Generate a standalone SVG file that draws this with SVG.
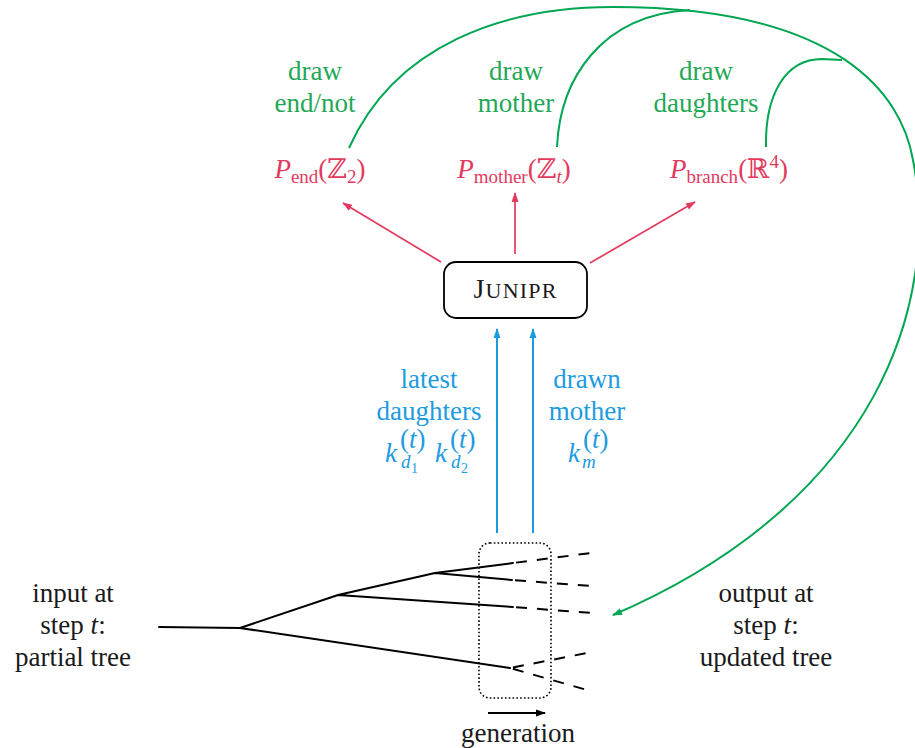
<svg xmlns="http://www.w3.org/2000/svg" width="915" height="748" viewBox="0 0 915 748">
<style>
text{font-family:"Liberation Serif","DejaVu Serif",serif;font-size:27px;}
.c{text-anchor:middle;}
.g{fill:#1fa855;}
.r{fill:#e23a5e;}
.b{fill:#219be0;}
.k{fill:#1a1a1a;}
.i{font-style:italic;}
.s{font-size:19px;}
.ss{font-size:14px;}
.gl{stroke:#00a651;stroke-width:2;fill:none;}
.rl{stroke:#e23a5e;stroke-width:1.7;fill:none;}
.bl{stroke:#1a9be0;stroke-width:2;fill:none;}
.tl{stroke:#000;stroke-width:2;fill:none;stroke-linecap:round;}
.dl{stroke:#000;stroke-width:2;fill:none;stroke-dasharray:11 10;stroke-dashoffset:18;}
</style>
<defs>
<marker id="ag" markerUnits="userSpaceOnUse" markerWidth="10" markerHeight="8" refX="9" refY="4" orient="auto"><path d="M0,0.5 L10,4 L0,7.5 Z" fill="#00a651"/></marker>
<marker id="ar" markerUnits="userSpaceOnUse" markerWidth="10" markerHeight="8" refX="9" refY="4" orient="auto"><path d="M0,0.5 L10,4 L0,7.5 Z" fill="#e23a5e"/></marker>
<marker id="ab" markerUnits="userSpaceOnUse" markerWidth="10" markerHeight="8" refX="9" refY="4" orient="auto"><path d="M0,0.5 L10,4 L0,7.5 Z" fill="#1a9be0"/></marker>
<marker id="ak" markerUnits="userSpaceOnUse" markerWidth="10" markerHeight="8" refX="9" refY="4" orient="auto"><path d="M0,0.5 L10,4 L0,7.5 Z" fill="#000"/></marker>
</defs>

<g id="connectors">
<path class="gl" d="M349,148 C395,45 503,7 613,7 C840,7 902,95 913,160 C940,300 880,500 613,615" marker-end="url(#ag)"/>
<path class="gl" d="M557,147 C560,80 600,15 690,10"/>
<path class="gl" d="M766,147 C765,95 785,59 822,59 L842,60"/>
<line class="rl" x1="441" y1="262" x2="343" y2="203" marker-end="url(#ar)"/>
<line class="rl" x1="515" y1="254" x2="515" y2="193" marker-end="url(#ar)"/>
<line class="rl" x1="590" y1="263" x2="695" y2="202" marker-end="url(#ar)"/>
<line class="bl" x1="497" y1="533" x2="497" y2="329" marker-end="url(#ab)"/>
<line class="bl" x1="533" y1="533" x2="533" y2="329" marker-end="url(#ab)"/>
<line stroke="#000" stroke-width="2" x1="488" y1="713" x2="545" y2="713" marker-end="url(#ak)"/>
</g>

<g id="label-end">
<text class="c g" x="315" y="80">draw</text>
<text class="c g" x="315" y="112">end/not</text>
</g>
<g id="label-mother">
<text class="c g" x="516" y="80">draw</text>
<text class="c g" x="516" y="112">mother</text>
</g>
<g id="label-daughters">
<text class="c g" x="706" y="80">draw</text>
<text class="c g" x="706" y="112">daughters</text>
</g>

<g id="p-end">
<text class="c r" x="320" y="178"><tspan class="i">P</tspan><tspan class="s" dy="5">end</tspan><tspan dy="-5">(ℤ</tspan><tspan class="s" dy="5">2</tspan><tspan dy="-5">)</tspan></text>
</g>
<g id="p-mother">
<text class="c r" x="514" y="178"><tspan class="i">P</tspan><tspan class="s" dy="5">mother</tspan><tspan dy="-5">(ℤ</tspan><tspan class="s i" dy="5">t</tspan><tspan dy="-5">)</tspan></text>
</g>
<g id="p-branch">
<text class="c r" x="729" y="178"><tspan class="i">P</tspan><tspan class="s" dy="5">branch</tspan><tspan dy="-5">(ℝ</tspan><tspan class="s" dy="-10">4</tspan><tspan dy="10">)</tspan></text>
</g>

<g id="junipr">
<rect x="444" y="262" width="143" height="56" rx="12" ry="12" fill="#fff" stroke="#000" stroke-width="1.8"/>
<text class="c k" x="515.5" y="298" letter-spacing="1.2"><tspan font-size="28">J</tspan><tspan font-size="22">UNIPR</tspan></text>
</g>

<g id="label-latest">
<text class="c b" x="429" y="388">latest</text>
<text class="c b" x="429" y="420">daughters</text>
<text class="b i" x="385" y="462">k</text>
<text class="b" x="400" y="448" font-size="19">(<tspan class="i">t</tspan>)</text>
<text class="b i s" x="401" y="468">d</text>
<text class="b ss" x="411" y="473">1</text>
<text class="b i" x="435" y="462">k</text>
<text class="b" x="450" y="448" font-size="19">(<tspan class="i">t</tspan>)</text>
<text class="b i s" x="451" y="468">d</text>
<text class="b ss" x="461" y="473">2</text>
</g>
<g id="label-drawn">
<text class="c b" x="587" y="388">drawn</text>
<text class="c b" x="587" y="420">mother</text>
<text class="b i" x="568" y="462">k</text>
<text class="b" x="583" y="448" font-size="19">(<tspan class="i">t</tspan>)</text>
<text class="b i s" x="582" y="468">m</text>
</g>

<g id="tree">
<path class="tl" d="M159,627 L240,628 L338,595 L435,573 L513,563 M435,573 L512,580 M338,595 L513,607 M240,628 L510,668"/>
<line class="dl" x1="513" y1="563" x2="591" y2="553"/>
<line class="dl" x1="512" y1="580" x2="591" y2="586"/>
<line class="dl" x1="513" y1="607" x2="592" y2="613"/>
<line class="dl" x1="510" y1="668" x2="587" y2="653"/>
<line class="dl" x1="510" y1="668" x2="587" y2="690"/>
</g>

<g id="window">
<rect x="479" y="543" width="72" height="155" rx="11" ry="11" fill="none" stroke="#000" stroke-width="1.6" stroke-dasharray="1.6 2.2"/>
</g>

<g id="input-label">
<text class="c k" x="73" y="602">input at</text>
<text class="c k" x="73" y="634">step <tspan class="i">t</tspan>:</text>
<text class="c k" x="73" y="666">partial tree</text>
</g>
<g id="output-label">
<text class="c k" x="766" y="602">output at</text>
<text class="c k" x="766" y="634">step <tspan class="i">t</tspan>:</text>
<text class="c k" x="766" y="666">updated tree</text>
</g>
<g id="generation">
<text class="c k" x="518" y="742">generation</text>
</g>
</svg>
